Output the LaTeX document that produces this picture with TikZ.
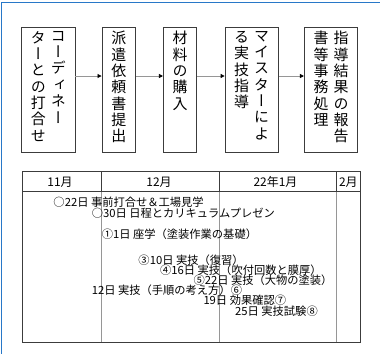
\documentclass[tikz,border=0pt]{standalone}
\usepackage{fontspec}
\setmainfont{Noto Sans CJK JP}
\newfontfamily\vfont[RawFeature=+vert]{Noto Sans CJK JP}
\newfontfamily\hfont{Noto Sans CJK JP}
\usetikzlibrary{arrows.meta}
\definecolor{frameblue}{RGB}{40,120,200}
\definecolor{boxline}{RGB}{60,60,60}
\definecolor{arrline}{RGB}{150,150,150}
\definecolor{sepgray}{RGB}{150,150,150}
\tikzset{
  stepbox/.style={draw=boxline, line width=0.8bp, minimum height=125.3bp, inner sep=0, anchor=center},
  vtext/.style={font=\vfont\fontsize{15}{16.4}\selectfont, align=center, inner sep=0, anchor=north},
  flow/.style={draw=arrline, line width=0.8bp, -{Triangle[length=4bp,width=4bp,fill=black,color=black]}},
  head/.style={font=\hfont\fontsize{12}{14}\selectfont, inner sep=0, anchor=center},
  item/.style={font=\hfont\fontsize{11.3}{13}\selectfont, inner sep=0, anchor=west},
}
\begin{document}
\begin{tikzpicture}[x=1bp,y=-1bp]
\useasboundingbox (0,0) rectangle (380,354);
\fill[white] (0,0) rectangle (380,354);
% blue frame
\draw[frameblue, line width=1.5bp] (1.5,354) -- (1.5,2.5) -- (380,2.5);
% boxes
\node[stepbox, minimum width=53.3bp] (b1) at (48.3,90) {};
\node[stepbox, minimum width=33.7bp] (b2) at (118.8,90) {};
\node[stepbox, minimum width=33.3bp] (b3) at (180,90) {};
\node[stepbox, minimum width=53.3bp] (b4) at (251.7,90) {};
\node[stepbox, minimum width=53.3bp] (b5) at (331,90) {};
% texts
\node[vtext] (t1a) at (58.3,31) {コ\\ー\\デ\\ィ\\ネ\\ー};
\node[vtext] (t1b) at (38.3,31) {タ\\ー\\と\\の\\打\\合\\せ};
\node[vtext] (t2) at (118.8,31) {派\\遣\\依\\頼\\書\\提\\出};
\node[vtext] (t3) at (180,31) {材\\料\\の\\購\\入};
\node[vtext] (t4a) at (261.7,31) {マ\\イ\\ス\\タ\\ー\\に\\よ};
\node[vtext] (t4b) at (241.7,31) {る\\実\\技\\指\\導};
\node[vtext] (t5a) at (341,31) {指\\導\\結\\果\\の\\報\\告};
\node[vtext] (t5b) at (321,31) {書\\等\\事\\務\\処\\理};
% arrows
\draw[flow] ([yshift=14bp]b1.east) -- ([yshift=14bp]b2.west);
\draw[flow] ([yshift=14bp]b2.east) -- ([yshift=14bp]b3.west);
\draw[flow] ([yshift=14bp]b3.east) -- ([yshift=14bp]b4.west);
\draw[flow] ([yshift=14bp]b4.east) -- ([yshift=14bp]b5.west);
% table
\draw[sepgray, line width=0.8bp] (101.7,191.7) -- (101.7,342.3);
\draw[sepgray, line width=0.8bp] (219,191.7) -- (219,342.3);
\draw[sepgray, line width=0.8bp] (336.7,191.7) -- (336.7,342.3);
\draw[boxline, line width=0.8bp] (101.7,171.7) -- (101.7,191.7);
\draw[boxline, line width=0.8bp] (219,171.7) -- (219,191.7);
\draw[boxline, line width=0.8bp] (336.7,171.7) -- (336.7,191.7);
\draw[boxline, line width=0.8bp] (22.3,191.7) -- (360,191.7);
\draw[boxline, line width=1bp] (22.3,171.7) rectangle (360,342.3);
\node[head] (h1) at (60,182) {11月};
\node[head] (h2) at (159,182) {12月};
\node[head] (h3) at (275.5,182) {22年1月};
\node[head] (h4) at (348.3,182) {2月};
\node[item] (i1) at (53.3,202.3) {○22日 事前打合せ＆工場見学};
\node[item] (i2) at (91.7,213.3) {○30日 日程とカリキュラムプレゼン};
\node[item] (i3) at (101.7,234) {①1日 座学（塗装作業の基礎）};
\node[item] (i4) at (138.3,260) {③10日 実技（復習）};
\node[item] (i5) at (160,270) {④16日 実技（吹付回数と膜厚）};
\node[item] (i6) at (193.3,280) {⑤22日 実技（大物の塗装）};
\node[item] (i7) at (91.7,290) {12日 実技（手順の考え方）⑥};
\node[item] (i8) at (203.3,300.7) {19日 効果確認⑦};
\node[item] (i9) at (235,311.7) {25日 実技試験⑧};
\end{tikzpicture}
\end{document}
